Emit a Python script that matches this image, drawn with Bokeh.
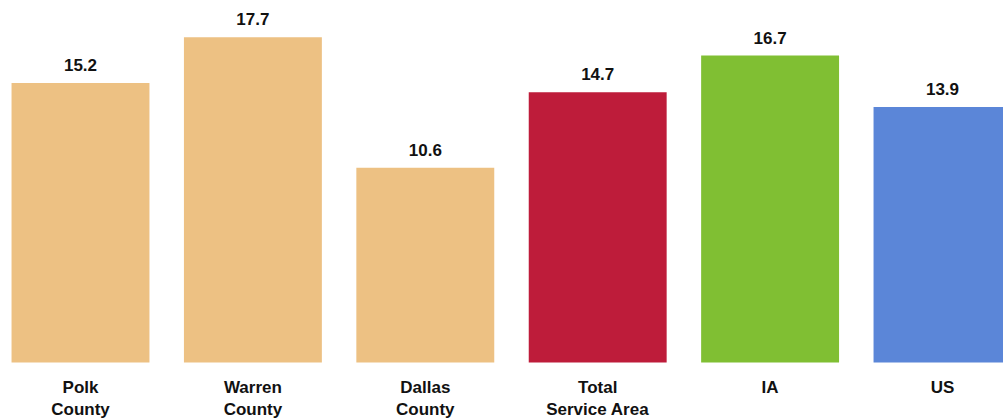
from bokeh.plotting import figure
from bokeh.models import Range1d, ColumnDataSource
from bokeh.core.properties import value
from bokeh.embed import file_html
from bokeh.resources import INLINE

categories = ["Polk\nCounty", "Warren\nCounty", "Dallas\nCounty", "Total\nService Area", "IA", "US"]
values = [15.2, 17.7, 10.6, 14.7, 16.7, 13.9]
colors = ["#EDC183", "#EDC183", "#EDC183", "#BE1C3A", "#80BF33", "#5B86D8"]

step = 172.4
W, H = 1003, 419
x0 = -80.0 / step
ppu = 18.38
y_top = 362 / ppu
y_bot = -(H - 362) / ppu

xs = list(range(len(categories)))
line1 = [c.split("\n")[0] for c in categories]
line2 = [c.split("\n")[1] if "\n" in c else "" for c in categories]
labels = [f"{v:.1f}" for v in values]

src = ColumnDataSource(dict(x=xs, v=values, c=colors, l1=line1, l2=line2, lab=labels, zero=[0] * len(xs)))

p = figure(width=W, height=H, output_backend="svg", toolbar_location=None,
           x_range=Range1d(x0, x0 + W / step), y_range=Range1d(y_bot, y_top),
           min_border=0, outline_line_color=None)
p.xaxis.visible = False
p.yaxis.visible = False
p.grid.visible = False
p.background_fill_color = "white"
p.border_fill_color = "white"

p.vbar(x="x", top="v", bottom=0, width=0.8, fill_color="c", line_color=None, source=src)

font = value("Liberation Sans")
fs = "17px"
p.text(x="x", y="v", text="lab", source=src, text_align="center", text_baseline="alphabetic",
       y_offset=-18, text_font=font, text_font_style="bold", text_font_size=fs, text_color="#111111")
p.text(x="x", y="zero", text="l1", source=src, text_align="center", text_baseline="alphabetic",
       y_offset=25, text_font=font, text_font_style="bold", text_font_size=fs, text_color="#111111")
p.text(x="x", y="zero", text="l2", source=src, text_align="center", text_baseline="alphabetic",
       y_offset=47, text_font=font, text_font_style="bold", text_font_size=fs, text_color="#111111")

open("out.html", "w").write(file_html(p, INLINE))
